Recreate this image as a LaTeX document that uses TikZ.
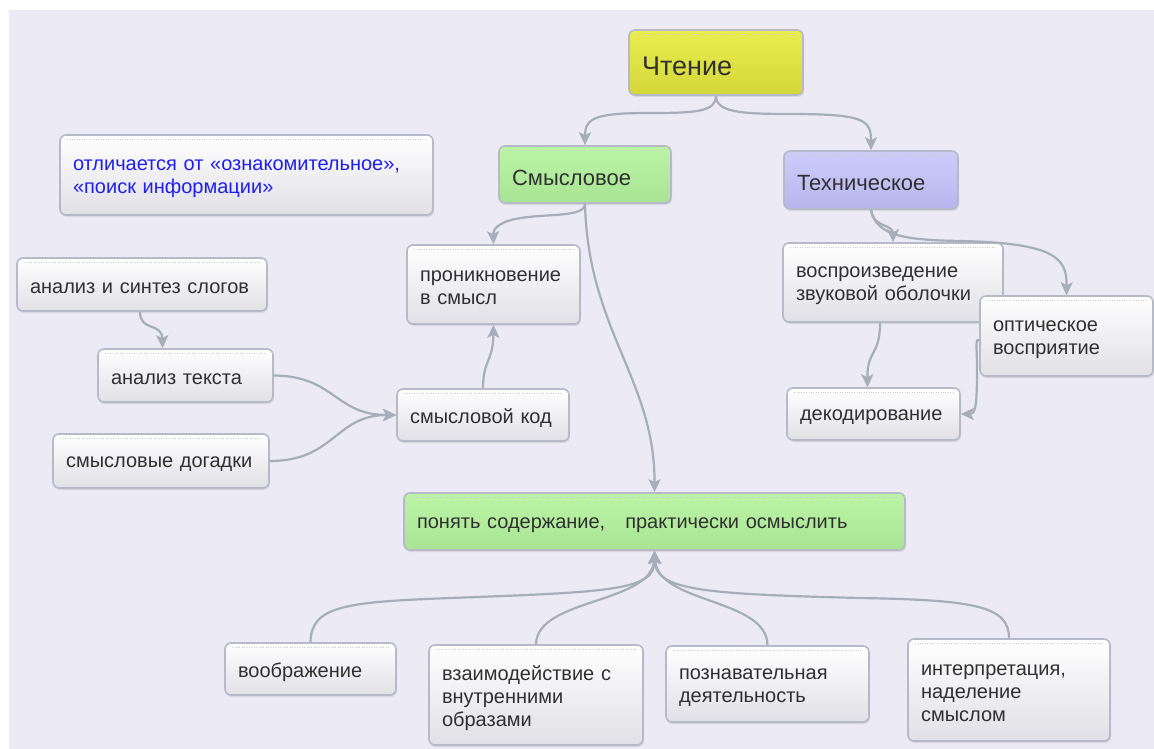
\documentclass[tikz,border=0pt]{standalone}
\usepackage{fontspec}
\setmainfont{Liberation Sans}
\usetikzlibrary{arrows.meta,shadows,calc}
\definecolor{bg}{HTML}{ECEAF5}
\definecolor{bord}{HTML}{B6BAC8}
\definecolor{boxbot}{HTML}{E0E0E6}
\definecolor{txt}{HTML}{303030}
\definecolor{bluetxt}{HTML}{1E1EF0}
\definecolor{yeltop}{HTML}{EAEE4E}
\definecolor{yelbot}{HTML}{D4D63A}
\definecolor{grntop}{HTML}{BCF4A6}
\definecolor{grnbot}{HTML}{A8E494}
\definecolor{vioTop}{HTML}{CDCDFA}
\definecolor{vioBot}{HTML}{B6B6EE}
\definecolor{conn}{HTML}{A6AEBA}
\tikzset{
  x=1pt, y=-1pt,
  box/.style={rectangle, rounded corners=6pt, draw=bord, line width=1.6pt,
    top color=white, bottom color=boxbot,
    drop shadow={opacity=0.18, shadow xshift=1pt, shadow yshift=-2pt},
    inner sep=0pt},
  yelbox/.style={box, top color=yeltop, bottom color=yelbot},
  grnbox/.style={box, top color=grntop, bottom color=grnbot},
  viobox/.style={box, top color=vioTop, bottom color=vioBot},
  label/.style={inner xsep=13pt, inner ysep=0pt, align=left, text=txt,
    font=\fontsize{20}{23}\selectfont},
  biglabel/.style={label, font=\fontsize{27}{30}\selectfont},
  headlabel/.style={label, font=\fontsize{22}{25}\selectfont},
  bluelabel/.style={label, text=bluetxt},
  dotrow/.style={draw=black!20, line width=0.8pt, dash pattern=on 0.8pt off 1.6pt},
  link/.style={draw=conn, line width=2.2pt, -{Stealth[length=13pt, width=12pt, inset=3pt]}}
}
\newcommand\mknode[8]{%
  \pgfmathsetmacro\bw{#6-#4}%
  \pgfmathsetmacro\bh{#7-#5}%
  \pgfmathsetmacro\tw{#6-#4-26}%
  \node[#2, minimum width=\bw pt, minimum height=\bh pt]
    (#1) at ({(#4+#6)/2},{(#5+#7)/2}) {};
  \draw[dotrow] ($(#1.north west)+(8,5)$) -- ($(#1.north east)+(-8,5)$);
  \node[#3, text width=\tw pt] (#1-t) at ({(#4+#6)/2},{(#5+#7)/2+3.5}) {#8};
}
\begin{document}
\begin{tikzpicture}
\useasboundingbox (0,0) rectangle (1154,749);
\fill[white] (0,0) rectangle (1154,749);
\fill[bg] (9,10) rectangle (1154,749);

% nodes
\mknode{cht}{yelbox}{biglabel}{629}{30}{803}{95}{Чтение}
\mknode{sm}{grnbox}{headlabel}{499}{146}{671}{203}{Смысловое}
\mknode{tech}{viobox}{headlabel}{784}{151}{958}{209}{Техническое}
\mknode{otl}{box}{bluelabel}{60}{135}{433}{215}{отличается от «ознакомительное»,\\«поиск информации»}
\mknode{pr}{box}{label}{407}{245}{580}{324}{проникновение\\в смысл}
\mknode{as}{box}{label}{17}{258}{267}{311}{анализ и синтез слогов}
\mknode{at}{box}{label}{98}{349}{273}{402}{анализ текста}
\mknode{sd}{box}{label}{53}{434}{269}{488}{смысловые догадки}
\mknode{kod}{box}{label}{397}{389}{569}{441}{смысловой код}
\mknode{vos}{box}{label}{783}{243}{1003}{322}{воспроизведение\\звуковой оболочки}
\mknode{opt}{box}{label}{980}{296}{1153}{376}{оптическое\\восприятие}
\mknode{dek}{box}{label}{787}{388}{960}{440}{декодирование}
\mknode{pon}{grnbox}{label}{404}{493}{905}{550}{понять содержание,\ \ \ практически осмыслить}
\mknode{vo}{box}{label}{225}{643}{396}{695}{воображение}
\mknode{vz}{box}{label}{429}{645}{643}{745}{взаимодействие с\\внутренними\\образами}
\mknode{po}{box}{label}{666}{646}{869}{722}{познавательная\\деятельность}
\mknode{in}{box}{label}{908}{639}{1110}{741}{интерпретация,\\наделение\\смыслом}

% connectors
\draw[link] (cht.south) .. controls (716,112) and (695,113) .. (650,113)
   .. controls (595,113) and (585,118) .. (sm.north);
\draw[link] (cht.south) .. controls (716,112) and (740,114) .. (790,114)
   .. controls (865,114) and (871,120) .. (tech.north);
\draw[link] (sm.south) .. controls (585,218) and (545,213) .. (515,219)
   .. controls (497,223) and (493,230) .. (pr.north);
\draw[link] (sm.south) .. controls (588,330) and (655,380) .. (pon.north);
\draw[link] (kod.north) .. controls (483,360) and (493,362) .. (pr.south);
\draw[link] ([xshift=-2pt]as.south) .. controls (140,332) and (162,322) .. ([xshift=-23pt]at.north);
\draw[link] (at.east) .. controls (335,376) and (335,415) .. (kod.west);
\draw[link] (sd.east) .. controls (335,461) and (335,415) .. (kod.west);
\draw[link] (tech.south) .. controls (873,228) and (893,224) .. (vos.north);
\draw[link] (tech.south) .. controls (876,236) and (905,240) .. (960,241)
   .. controls (1055,243) and (1067,258) .. (opt.north);
\draw[link] ([xshift=-13pt]vos.south) .. controls (880,356) and (867,350) .. ([xshift=-6pt]dek.north);
\draw[link] ([yshift=-4pt]opt.west) .. controls (975,338) and (977,346) .. (977,370)
   .. controls (977,408) and (975,414) .. (dek.east);
\draw[link] (vo.north) .. controls (311,606) and (345,602) .. (450,598)
   .. controls (615,592) and (655,590) .. (pon.south);
\draw[link] (vz.north) .. controls (537,598) and (652,604) .. (pon.south);
\draw[link] (po.north) .. controls (767,598) and (658,604) .. (pon.south);
\draw[link] (in.north) .. controls (1009,606) and (975,600) .. (860,598)
   .. controls (700,594) and (655,590) .. (pon.south);
\end{tikzpicture}
\end{document}
